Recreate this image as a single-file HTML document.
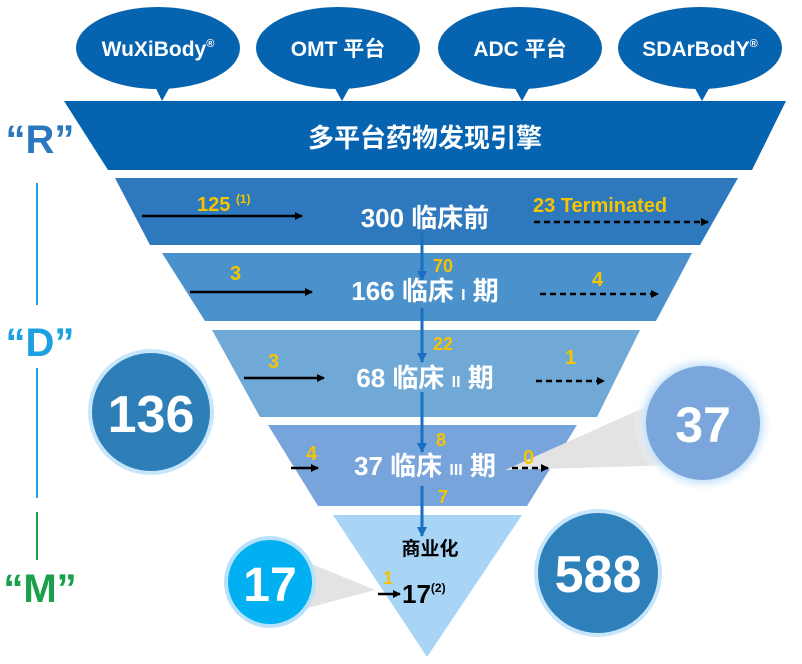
<!DOCTYPE html>
<html><head><meta charset="utf-8"><style>
body{margin:0;background:#fff}
svg{display:block;font-family:"Liberation Sans","Noto Sans CJK SC",sans-serif;font-weight:bold}
</style></head><body>
<svg width="802" height="664" viewBox="0 0 802 664">
<defs>
<marker id="ab" markerWidth="8" markerHeight="8" refX="7" refY="4" orient="auto" markerUnits="userSpaceOnUse"><path d="M0,0 L8,4 L0,8z" fill="#000"/></marker>
<marker id="abl" markerWidth="10" markerHeight="10" refX="9" refY="5" orient="auto" markerUnits="userSpaceOnUse"><path d="M0,0 L10,5 L0,10z" fill="#1a6fc0"/></marker>
<radialGradient id="glow"><stop offset="0.8" stop-color="#bfe0fa"/><stop offset="1" stop-color="#fff" stop-opacity="0"/></radialGradient>
</defs>
<!-- bubbles -->
<g fill="#0563b0">
<ellipse cx="158" cy="48" rx="82" ry="41"/><path d="M150,76 L162,101 L176,76z"/>
<ellipse cx="338" cy="48" rx="82" ry="41"/><path d="M328,76 L342,101 L356,76z"/>
<ellipse cx="520" cy="48" rx="82" ry="41"/><path d="M508,76 L522,101 L536,76z"/>
<ellipse cx="700" cy="48" rx="82" ry="41"/><path d="M688,76 L702,101 L716,76z"/>
</g>
<g fill="#fff" font-size="21" text-anchor="middle">
<text x="158" y="56">WuXiBody<tspan font-size="11" dy="-9">®</tspan></text>
<text x="338" y="56">OMT 平台</text>
<text x="520" y="56">ADC 平台</text>
<text x="700" y="56">SDArBodY<tspan font-size="11" dy="-9">®</tspan></text>
</g>
<!-- bands -->
<path d="M64,101 L786,101 L752,170 L108,170z" fill="#0563b0"/>
<path d="M115,178 L738,178 L700,245 L150,245z" fill="#2e78bd"/>
<path d="M162,253 L692,253 L656,321 L205,321z" fill="#4b91cc"/>
<path d="M212,330 L640,330 L597,417 L260,417z" fill="#71a9d6"/>
<path d="M268,425 L577,425 L527,506 L318,506z" fill="#78a4dc"/>
<path d="M333,515 L522,515 L427,657z" fill="#a8d5f6"/>
<!-- gray wedges -->
<path d="M505,470 L650,405 L680,465z" fill="#e3e3e3"/>
<path d="M375,590 L290,555 L300,610z" fill="#e3e3e3"/>
<!-- vertical arrows -->
<g stroke="#1a6fc0" stroke-width="3">
<line x1="422" y1="233" x2="422" y2="280" marker-end="url(#abl)"/>
<line x1="422" y1="308" x2="422" y2="362" marker-end="url(#abl)"/>
<line x1="422" y1="392" x2="422" y2="452" marker-end="url(#abl)"/>
<line x1="422" y1="486" x2="422" y2="536" marker-end="url(#abl)"/>
</g>
<!-- left RDM -->
<text x="40" y="153" font-size="40" fill="#2b78c0" text-anchor="middle">“R”</text>
<line x1="37" y1="183" x2="37" y2="305" stroke="#1da0e0" stroke-width="2"/>
<text x="40" y="356" font-size="40" fill="#1ba1e2" text-anchor="middle">“D”</text>
<line x1="37" y1="368" x2="37" y2="498" stroke="#1da0e0" stroke-width="2"/>
<line x1="37" y1="512" x2="37" y2="560" stroke="#1aa04a" stroke-width="2"/>
<text x="40" y="602" font-size="40" fill="#1aa04a" text-anchor="middle">“M”</text>
<!-- band texts -->
<g fill="#fff" text-anchor="middle">
<text x="425" y="147" font-size="26">多平台药物发现引擎</text>
<text x="425" y="227" font-size="26">300 临床前</text>
<text x="425" y="300" font-size="26">166 临床 <tspan font-size="16">I</tspan> 期</text>
<text x="425" y="387" font-size="26">68 临床 <tspan font-size="16">II</tspan> 期</text>
<text x="425" y="475" font-size="26">37 临床 <tspan font-size="16">III</tspan> 期</text>
</g>
<g fill="#f5c400" font-size="20">
<text x="197" y="211">125 <tspan font-size="12" dy="-8">(1)</tspan></text>
<text x="533" y="212">23 Terminated</text>
<text x="230" y="280">3</text><text x="592" y="286">4</text>
<text x="433" y="272" font-size="18">70</text>
<text x="268" y="368">3</text><text x="565" y="364">1</text>
<text x="433" y="350" font-size="18">22</text>
<text x="306" y="460">4</text><text x="523" y="464">0</text>
<text x="436" y="446" font-size="18">8</text>
<text x="438" y="503" font-size="18">7</text>
<text x="383" y="584" font-size="18">1</text>
</g>
<g stroke="#000" stroke-width="2.5">
<line x1="142" y1="216" x2="302" y2="216" marker-end="url(#ab)"/>
<line x1="190" y1="292" x2="312" y2="292" marker-end="url(#ab)"/>
<line x1="244" y1="378" x2="324" y2="378" marker-end="url(#ab)"/>
<line x1="291" y1="468" x2="318" y2="468" marker-end="url(#ab)"/>
<line x1="378" y1="594" x2="400" y2="594" marker-end="url(#ab)"/>
<g stroke-dasharray="6,4">
<line x1="534" y1="222" x2="708" y2="222" marker-end="url(#ab)"/>
<line x1="540" y1="294" x2="658" y2="294" marker-end="url(#ab)"/>
<line x1="536" y1="381" x2="604" y2="381" marker-end="url(#ab)"/>
<line x1="512" y1="468" x2="548" y2="468" marker-end="url(#ab)"/>
</g>
</g>
<text x="430" y="555" font-size="19" fill="#000" text-anchor="middle">商业化</text>
<text x="402" y="603" font-size="26" fill="#000">17<tspan font-size="12" dy="-11">(2)</tspan></text>
<!-- circles -->
<circle cx="151" cy="412" r="63" fill="#c8e6fa"/><circle cx="151" cy="412" r="59" fill="#2e7fb8"/>
<text x="151" y="432" font-size="52" fill="#fff" text-anchor="middle">136</text>
<circle cx="703" cy="423" r="70" fill="url(#glow)"/><circle cx="703" cy="423" r="57" fill="#7aa6dc"/>
<text x="703" y="442" font-size="50" fill="#fff" text-anchor="middle">37</text>
<circle cx="598" cy="573" r="64" fill="#c8e6fa"/><circle cx="598" cy="573" r="60" fill="#2e80ba"/>
<text x="598" y="592" font-size="52" fill="#fff" text-anchor="middle">588</text>
<circle cx="270" cy="582" r="46" fill="#b8e2fa"/><circle cx="270" cy="582" r="42" fill="#00b0f0"/>
<text x="270" y="601" font-size="48" fill="#fff" text-anchor="middle">17</text>
</svg>
</body></html>
